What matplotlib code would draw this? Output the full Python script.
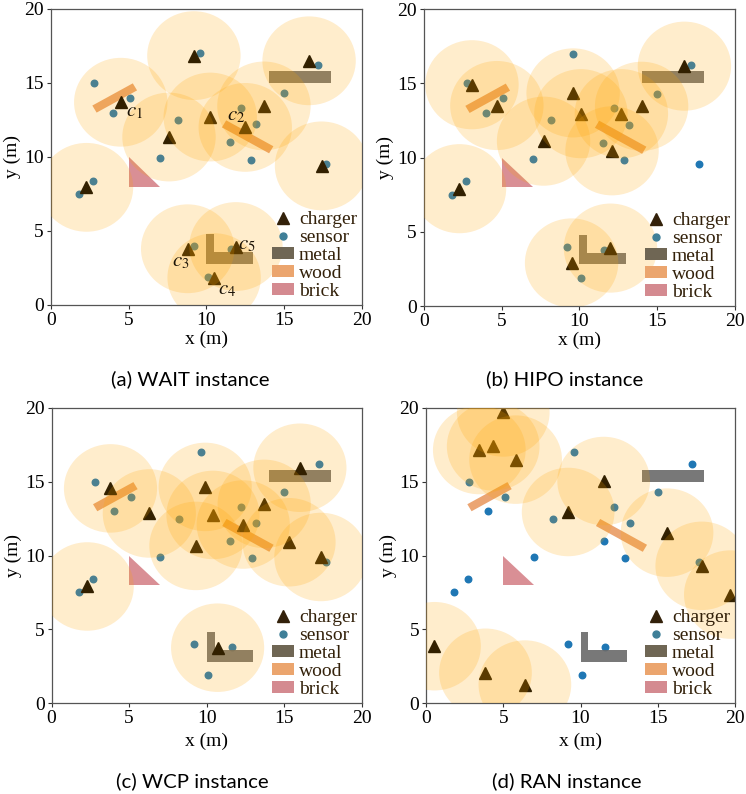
import matplotlib
matplotlib.use("Agg")
import matplotlib.pyplot as plt
from matplotlib.patches import Circle, Rectangle, Polygon, Patch
from matplotlib.lines import Line2D

# ---------------- data ----------------
sensor_x = [2.8, 5.1, 4.0, 8.2, 9.6, 7.0, 2.7, 1.8, 12.2, 13.2, 11.5, 12.9, 15.0, 17.2, 17.7, 9.2, 11.6, 10.1]
sensor_y = [15.0, 14.0, 13.0, 12.5, 17.0, 9.9, 8.4, 7.5, 13.3, 12.2, 11.0, 9.8, 14.3, 16.2, 9.55, 4.0, 3.8, 1.9]

wait_x = [2.3, 4.5, 9.2, 7.6, 10.25, 12.5, 13.7, 16.6, 17.4, 8.8, 10.5, 11.9]
wait_y = [7.95, 13.7, 16.85, 11.35, 12.7, 12.0, 13.45, 16.5, 9.4, 3.8, 1.85, 3.95]

hipo_x = [2.3, 3.1, 4.7, 7.7, 9.6, 10.1, 12.1, 12.7, 14.0, 16.75, 9.5, 12.0]
hipo_y = [7.9, 14.9, 13.5, 11.1, 14.35, 12.95, 10.45, 12.95, 13.45, 16.15, 2.9, 3.9]

wcp_x = [2.3, 3.8, 6.3, 9.3, 9.9, 10.4, 12.35, 13.7, 16.0, 15.3, 17.35, 10.7]
wcp_y = [7.9, 14.55, 12.85, 10.65, 14.65, 12.75, 12.1, 13.5, 15.95, 10.9, 9.9, 3.75]

ran_x = [5.0, 4.35, 3.45, 5.8, 9.2, 11.5, 15.6, 17.85, 19.7, 0.55, 3.85, 6.4]
ran_y = [19.7, 17.4, 17.15, 16.5, 12.95, 15.05, 11.55, 9.3, 7.35, 3.85, 2.05, 1.25]

charge_radius = 3.0

# obstacles: (x, y, width, height, angle)
metal_rects = [(14.0, 15.0, 4.0, 0.8, 0), (10.0, 2.8, 0.5, 2.0, 0), (10.5, 2.8, 2.5, 0.8, 0)]
wood_rects = [(2.95, 13.0, 3.0, 0.55, 30), (11.0, 12.0, 3.5, 0.55, -30)]
brick_tri_x = [5.0, 5.0, 7.0]
brick_tri_y = [10.0, 8.0, 8.0]

wait_labels = ["$c_1$", "$c_2$", "$c_3$", "$c_4$", "$c_5$"]
wait_label_x = [5.4, 11.9, 8.35, 11.35, 12.6]
wait_label_y = [13.05, 12.8, 2.9, 1.0, 4.05]

panels = [
    ("(a) WAIT instance", wait_x, wait_y),
    ("(b) HIPO instance", hipo_x, hipo_y),
    ("(c) WCP instance", wcp_x, wcp_y),
    ("(d) RAN instance", ran_x, ran_y),
]
ticks = [0, 5, 10, 15, 20]

# ---------------- style ----------------
plt.rcParams["font.family"] = ["Liberation Serif", "DejaVu Serif"]
plt.rcParams["mathtext.fontset"] = "stix"

circle_col = "#FFA500"
sensor_col = "#1f77b4"
metal_col = "#696969"
wood_col = "#e8955a"
brick_col = "#cd6a72"
legend_text_col = "#33210a"

fig = plt.figure(figsize=(7.46, 7.94), dpi=100)
W, H = 746.0, 794.0
boxes = [
    (50.7, 9, 362, 305),
    (423.7, 9, 735, 306),
    (51.5, 408, 362, 703),
    (426, 408, 735, 703),
]
xlabelpads = [1, 1, 4, 4]
caption_pos = [(190, 379), (565, 379), (192, 781), (567, 781)]

for i, (cap, cx, cy) in enumerate(panels):
    l, t, r, b = boxes[i]
    ax = fig.add_axes([l / W, 1 - b / H, (r - l) / W, (b - t) / H])
    ax.set_xlim(0, 20)
    ax.set_ylim(0, 20)
    ax.set_xticks(ticks)
    ax.set_yticks(ticks)
    ax.tick_params(labelsize=14, direction="out", length=3, width=0.8, colors="#333333", pad=2)
    for lab in ax.get_xticklabels() + ax.get_yticklabels():
        lab.set_color("black")
    for s in ax.spines.values():
        s.set_color("#555555")
        s.set_linewidth(0.9)
    ax.set_xlabel("x (m)", fontsize=14, labelpad=xlabelpads[i])
    ax.set_ylabel("y (m)", fontsize=14, labelpad=2)

    # sensors (under circles)
    ax.plot(sensor_x, sensor_y, "o", color=sensor_col, ms=4.7, zorder=1)
    # obstacles
    for (x, y, w, h, a) in metal_rects:
        ax.add_patch(Rectangle((x, y), w, h, angle=a, facecolor=metal_col, alpha=0.9, edgecolor="none", zorder=1))
    for (x, y, w, h, a) in wood_rects:
        ax.add_patch(Rectangle((x, y), w, h, angle=a, facecolor=wood_col, alpha=0.85, edgecolor="none", zorder=1))
    ax.add_patch(Polygon(list(zip(brick_tri_x, brick_tri_y)), closed=True, facecolor=brick_col,
                         alpha=0.75, edgecolor="none", zorder=1))
    # chargers
    ax.plot(cx, cy, "^", color="black", ms=8, zorder=2)
    # charging ranges
    for x, y in zip(cx, cy):
        ax.add_patch(Circle((x, y), charge_radius, facecolor=circle_col, alpha=0.2, edgecolor="none", zorder=3))

    if i == 0:
        for lab, lx, ly in zip(wait_labels, wait_label_x, wait_label_y):
            ax.text(lx, ly, lab, fontsize=15, ha="center", va="center", color="#1a1206", zorder=4)

    handles = [
        Line2D([], [], marker="^", ls="none", color="#33210a", ms=8),
        Line2D([], [], marker="o", ls="none", color="#3f7f98", ms=5),
        Patch(facecolor="#6f6654", edgecolor="none"),
        Patch(facecolor="#eba56e", edgecolor="none"),
        Patch(facecolor="#d48a90", edgecolor="none"),
    ]
    leg = ax.legend(handles, ["charger", "sensor", "metal", "wood", "brick"], loc="lower right",
                    frameon=False, fontsize=14, handlelength=1.15, handleheight=0.55, handletextpad=0.25,
                    labelspacing=0.05, borderaxespad=0.15, borderpad=0.1)
    for txt in leg.get_texts():
        txt.set_color(legend_text_col)

    px, py = caption_pos[i]
    fig.text(px / W, 1 - py / H, cap, fontsize=14.7, family=["Lato", "DejaVu Sans"],
             ha="center", va="center")

fig.savefig("out.png", dpi=100)
